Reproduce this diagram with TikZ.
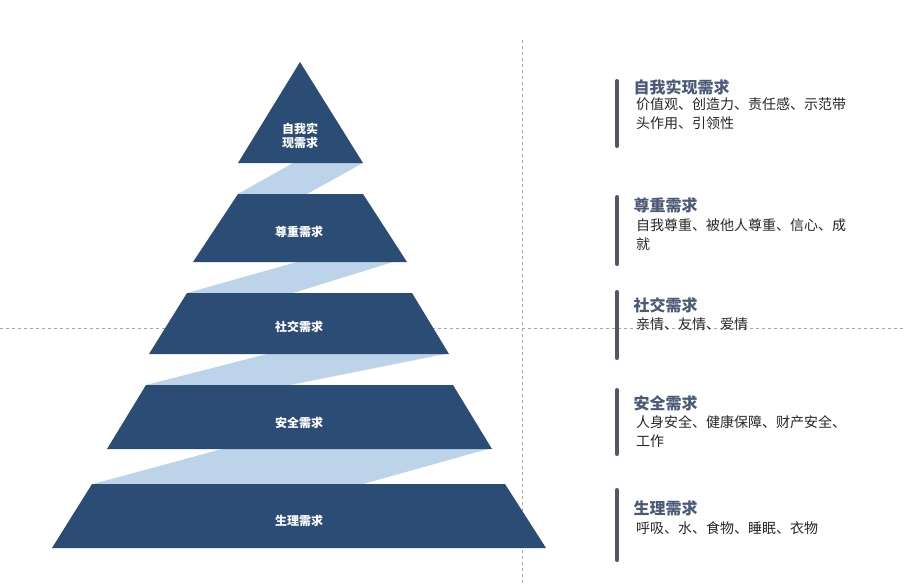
\documentclass[tikz,border=0pt]{standalone}
\usepackage{fontspec}
\newfontfamily\cjk{Noto Sans CJK SC}
\definecolor{tier}{HTML}{2B4C74}
\definecolor{band}{HTML}{BDD3EA}
\definecolor{ttl}{HTML}{4A5A78}
\definecolor{bar}{HTML}{4F5768}
\tikzset{
  tierlab/.style={text=white,font=\cjk\bfseries\fontsize{12}{14}\selectfont,align=center},
  ttlab/.style={anchor=west,text=ttl,font=\cjk\bfseries\fontsize{16}{18}\selectfont},
  bodylab/.style={anchor=north west,text=black!85,font=\cjk\fontsize{14}{19}\selectfont,align=left,inner sep=0pt},
  guide/.style={gray!70,dashed,line width=0.6pt},
  sidebar/.style={bar,line width=4pt,line cap=round}
}
\begin{document}
\begin{tikzpicture}[x=1pt,y=-1pt]
\useasboundingbox (0,0) rectangle (906,584);
% guides
\draw[guide] (522,40) -- (522,584);
\draw[guide] (0,328) -- (906,328);
% bands
\fill[band] (293,163) -- (363,163) -- (307,194) -- (238,194) -- cycle;
\fill[band] (297,262) -- (393,262) -- (293,293) -- (187,293) -- cycle;
\fill[band] (267,354) -- (445,354) -- (290,385) -- (146,385) -- cycle;
\fill[band] (222,449) -- (488,449) -- (363,484) -- (93,484) -- cycle;
% tiers
\fill[tier] (300,62) -- (363,163) -- (238,163) -- cycle;
\fill[tier] (238,194) -- (363,194) -- (407,262) -- (193,262) -- cycle;
\fill[tier] (187,293) -- (412,293) -- (449,354) -- (149,354) -- cycle;
\fill[tier] (146,385) -- (453,385) -- (492,449) -- (107,449) -- cycle;
\fill[tier] (92,484) -- (505,484) -- (546,548) -- (52,548) -- cycle;
\node[tierlab] (t1) at (300,136) {自我实\\现需求};
\node[tierlab] (t2) at (299,232) {尊重需求};
\node[tierlab] (t3) at (299,327) {社交需求};
\node[tierlab] (t4) at (299,423) {安全需求};
\node[tierlab] (t5) at (299,521) {生理需求};
% right side
\draw[sidebar] (617,81) -- (617,146);
\draw[sidebar] (617,197) -- (617,264);
\draw[sidebar] (617,292) -- (617,358);
\draw[sidebar] (617,390) -- (617,454);
\draw[sidebar] (617,490) -- (617,560);
\node[ttlab] (h1) at (630,87) {自我实现需求};
\node[bodylab] (b1) at (636,98) {价值观、创造力、责任感、示范带\\头作用、引领性};
\node[ttlab] (h2) at (630,205) {尊重需求};
\node[bodylab] (b2) at (636,218) {自我尊重、被他人尊重、信心、成\\就};
\node[ttlab] (h3) at (630,305) {社交需求};
\node[bodylab] (b3) at (636,318) {亲情、友情、爱情};
\node[ttlab] (h4) at (630,403) {安全需求};
\node[bodylab] (b4) at (636,415) {人身安全、健康保障、财产安全、\\工作};
\node[ttlab] (h5) at (630,508) {生理需求};
\node[bodylab] (b5) at (636,521) {呼吸、水、食物、睡眠、衣物};
\end{tikzpicture}
\end{document}
